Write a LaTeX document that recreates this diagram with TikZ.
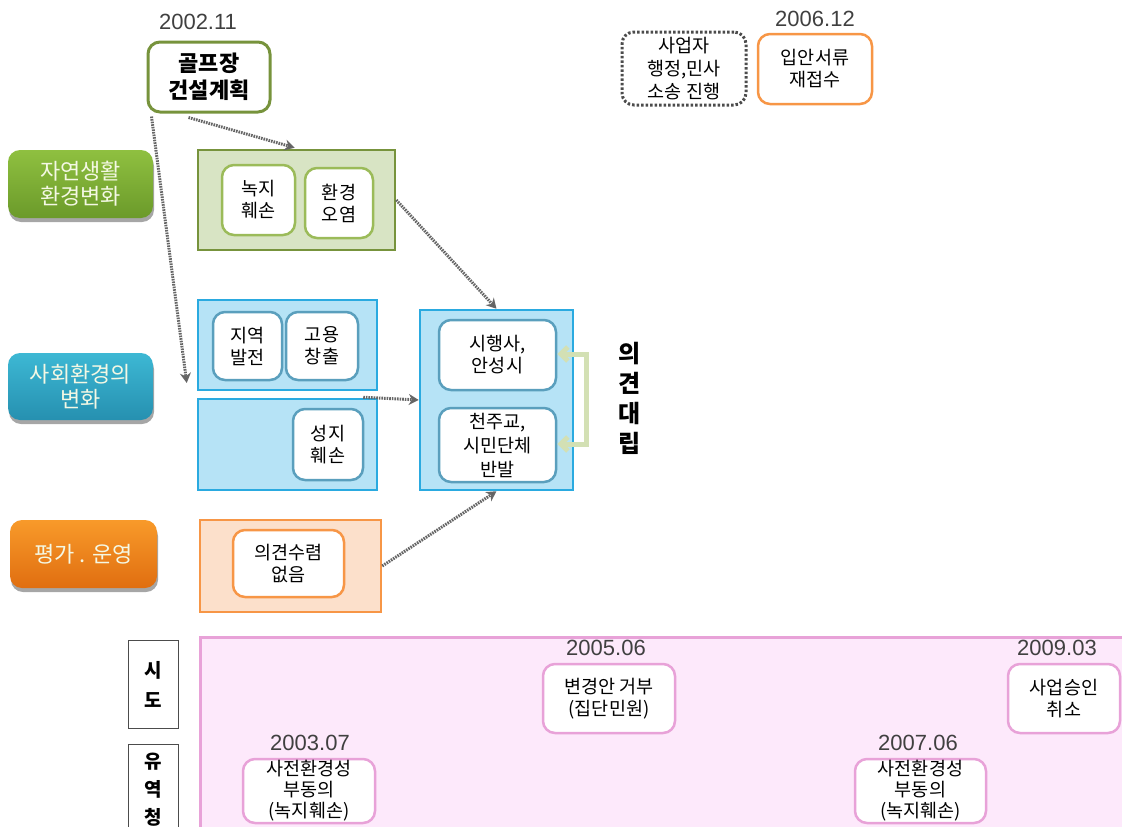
\documentclass[tikz,border=0pt]{standalone}
\usepackage{fontspec}
\setmainfont{Noto Sans CJK KR}
\newfontfamily\datefont{Liberation Sans}
\usetikzlibrary{arrows.meta,shadows,calc}
\definecolor{grnD}{HTML}{77933C}
\definecolor{grnM}{HTML}{9BBB59}
\definecolor{grnF}{HTML}{D8E4C4}
\definecolor{grnT}{HTML}{8FC040}
\definecolor{grnB}{HTML}{6B9A2A}
\definecolor{bluT}{HTML}{3DB8D4}
\definecolor{bluBt}{HTML}{2690B0}
\definecolor{orgT}{HTML}{F89A2A}
\definecolor{orgBt}{HTML}{E06E10}
\definecolor{bluB}{HTML}{2AAAE0}
\definecolor{bluF}{HTML}{B6E3F6}
\definecolor{bluI}{HTML}{5A9FBD}
\definecolor{orgB}{HTML}{F79646}
\definecolor{orgF}{HTML}{FCE0CB}
\definecolor{pnkF}{HTML}{FDE9FB}
\definecolor{pnkB}{HTML}{E8A2D8}
\definecolor{dateC}{HTML}{404040}
\definecolor{brk}{HTML}{D3E0B4}
\definecolor{btxt}{HTML}{F4F8E4}
\tikzset{
  box/.style={draw, rounded corners=12pt, fill=white, line width=2.5pt, inner sep=0pt, align=center,
    font=\fontsize{18.5}{22}\selectfont},
  grpbox/.style={draw, line width=2.5pt, inner sep=0pt},
  button/.style={rounded corners=12pt, inner sep=0pt, align=center, text=btxt,
    font=\fontsize{22}{25}\selectfont,
    drop shadow={shadow xshift=1pt, shadow yshift=-4pt, opacity=0.35, fill=black}},
  datelbl/.style={text=dateC, font=\datefont\fontsize{22}{24}\selectfont, inner sep=0pt},
  dotarrow/.style={draw=black!60, line width=3pt, dash pattern=on 1.6pt off 1pt,
    -{Stealth[length=10pt,width=11pt,fill=black!65]}},
}
\begin{document}
\begin{tikzpicture}[x=1pt,y=-1pt]
\useasboundingbox (0,0) rectangle (1122,827);
\clip (0,0) rectangle (1122,827);
% golf plan
\node[datelbl] (d1) at (198,22) {2002.11};
\node[box, draw=grnD, line width=3pt, minimum width=122pt, minimum height=70pt,
  font=\bfseries\fontsize{22}{27}\selectfont] (golf) at (209,77) {골프장\\건설계획};
% left buttons
\node[button, top color=grnT, bottom color=grnB, minimum width=145pt, minimum height=68pt]
  (b1) at (80.5,184) {자연생활\\환경변화};
\node[button, top color=bluT, bottom color=bluBt, minimum width=145pt, minimum height=67pt]
  (b2) at (80.5,386.5) {사회환경의\\변화};
\node[button, top color=orgT, bottom color=orgBt, minimum width=147pt, minimum height=68pt]
  (b3) at (83.5,554) {평가 . 운영};
% green group
\node[grpbox, draw=grnD, fill=grnF, minimum width=197pt, minimum height=100pt] (g) at (296.5,200) {};
\node[box, draw=grnM, minimum width=73pt, minimum height=70pt] (g1) at (258.5,200) {녹지\\훼손};
\node[box, draw=grnM, minimum width=68pt, minimum height=70pt] (g2) at (339,203) {환경\\오염};
% blue groups
\node[grpbox, draw=bluB, fill=bluF, minimum width=179pt, minimum height=90pt] (s1) at (287.5,345) {};
\node[grpbox, draw=bluB, fill=bluF, minimum width=179pt, minimum height=91pt] (s2) at (287.5,444.5) {};
\node[box, draw=bluI, minimum width=69pt, minimum height=68pt] (s11) at (247.5,346) {지역\\발전};
\node[box, draw=bluI, minimum width=72pt, minimum height=68pt] (s12) at (322,346) {고용\\창출};
\node[box, draw=bluI, minimum width=70pt, minimum height=71pt] (s21) at (328,444.5) {성지\\훼손};
% orange group
\node[grpbox, draw=orgB, fill=orgF, minimum width=181pt, minimum height=92pt] (o) at (290.5,566) {};
\node[box, draw=orgB, minimum width=111pt, minimum height=67pt] (o1) at (288.5,563.5) {의견수렴\\없음};
% center
\node[grpbox, draw=bluB, fill=bluF, minimum width=153pt, minimum height=180pt] (c) at (496.5,400) {};
\node[box, draw=bluI, minimum width=117pt, minimum height=70pt] (c1) at (497.5,355) {시행사,\\안성시};
\node[box, draw=bluI, minimum width=117pt, minimum height=74pt, font=\fontsize{18.5}{24}\selectfont] (c2) at (497.5,445) {천주교,\\시민단체\\반발};
% bracket
\coordinate (bk1) at (586,354);
\coordinate (bk2) at (586,444);
\draw[brk, line width=5pt, {Straight Barb[length=7pt,width=14pt]}-{Straight Barb[length=7pt,width=14pt]}]
  (c1.east |- bk1) -- (bk1) -- (bk2) -- (c2.east |- bk2);
\node[font=\bfseries\fontsize{24}{30}\selectfont, align=center, inner sep=0pt] (opp) at (630,398) {의\\견\\대\\립};
% top right
\node[box, draw=black!70, dotted, line width=3pt, minimum width=124pt, minimum height=73pt,
  font=\fontsize{18.5}{23}\selectfont] (lit) at (684,68.5) {사업자\\행정,민사\\소송 진행};
\node[datelbl] (d2) at (815,19) {2006.12};
\node[box, draw=orgB, minimum width=114pt, minimum height=70pt] (re) at (815,69) {입안서류\\재접수};
% arrows
\draw[dotarrow] ($(golf.south west)+(42,4)$) -- ($(g.north west)+(98,-1)$);
\draw[dotarrow] ($(golf.south west)+(5,3)$) -- ($(s1.west)+(-10,38)$);
\draw[dotarrow] (g.east) -- (c.north);
\draw[dotarrow] ($(s1.south east)+(-15,6)$) -- (c.west);
\draw[dotarrow] (o.east) -- (c.south);
% bottom timeline
\node[draw=pnkB, fill=pnkF, line width=2.5pt, minimum width=940pt, minimum height=220pt, inner sep=0pt, anchor=north west] (tl) at (199,636) {};
\node[draw=black!70, line width=1pt, fill=white, minimum width=50pt, minimum height=88pt, inner sep=0pt, align=center,
  font=\bfseries\fontsize{19}{30}\selectfont] (sido) at (153,684) {시\\도};
\node[draw=black!70, line width=1pt, fill=white, minimum width=50pt, minimum height=90pt, inner sep=0pt, align=center,
  anchor=north, font=\bfseries\fontsize{19}{28}\selectfont] (yuy) at (153,744) {유\\역\\청};
\node[datelbl] (d3) at (606,648) {2005.06};
\node[box, draw=pnkB, minimum width=132pt, minimum height=69pt] (t1) at (609,698.5) {변경안 거부\\(집단민원)};
\node[datelbl] (d4) at (1057,648) {2009.03};
\node[box, draw=pnkB, minimum width=112pt, minimum height=69pt] (t2) at (1064,698.5) {사업승인\\취소};
\node[datelbl] (d5) at (310,743) {2003.07};
\node[box, draw=pnkB, minimum width=132pt, minimum height=64pt, font=\fontsize{18.5}{21}\selectfont] (t3) at (309,791) {사전환경성\\부동의\\(녹지훼손)};
\node[datelbl] (d6) at (918,743) {2007.06};
\node[box, draw=pnkB, minimum width=131pt, minimum height=64pt, font=\fontsize{18.5}{21}\selectfont] (t4) at (920.5,791) {사전환경성\\부동의\\(녹지훼손)};
\end{tikzpicture}
\end{document}
